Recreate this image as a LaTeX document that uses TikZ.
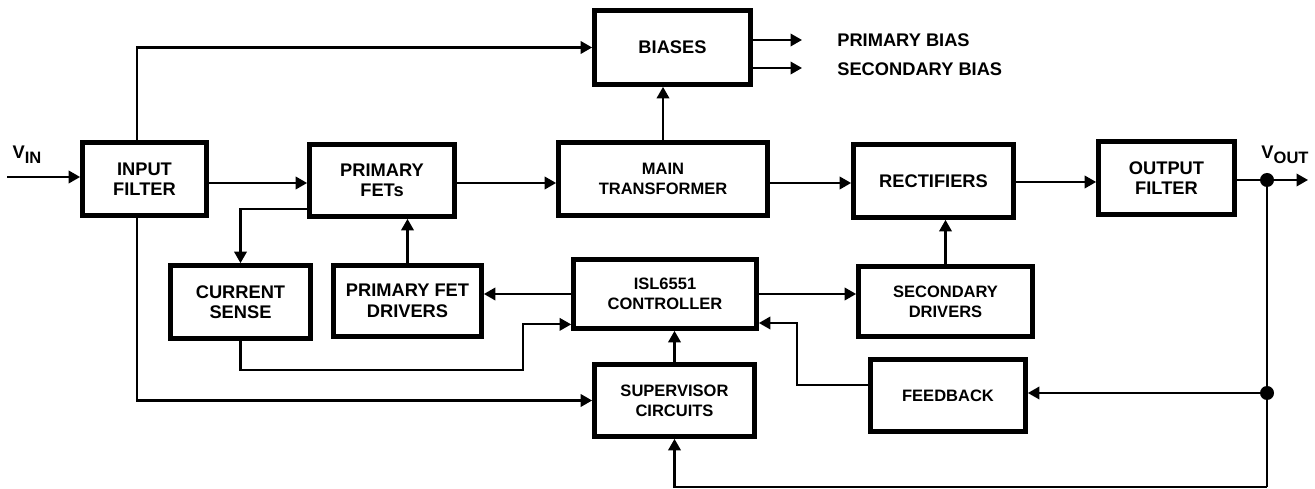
\documentclass[tikz,border=0pt]{standalone}
\usepackage{fontspec}
\setmainfont{Liberation Sans}
\usetikzlibrary{arrows.meta}
\tikzstyle{block} = [draw, line width=2.7pt, fill=white, align=center, inner sep=1pt, font=\bfseries\fontsize{10.4}{11.7}\selectfont]
\tikzstyle{smallblock} = [block, font=\bfseries\fontsize{9.4}{11.3}\selectfont]
\tikzstyle{label} = [inner sep=0pt, font=\bfseries\fontsize{10.4}{11.7}\selectfont]
\tikzstyle{arrow} = [draw, line width=1.2pt, -{Triangle[length=0.23cm,width=0.25cm]}]
\tikzstyle{wire} = [draw, line width=1.2pt]

\begin{document}
\begin{tikzpicture}[x=0.2mm,y=-0.2mm]
		\useasboundingbox (0,0) rectangle (1315,489);
		
		% Bloques de potencia
		\node[block, minimum width=2.48cm, minimum height=1.46cm] (inf) at (144.5,179) {INPUT\\FILTER};
		\node[block, minimum width=2.9cm, minimum height=1.44cm] (fets) at (382,180.5) {PRIMARY\\FETs};
		\node[smallblock, minimum width=4.18cm, minimum height=1.46cm] (trans) at (663,179) {MAIN\\TRANSFORMER};
		\node[block, minimum width=3.12cm, minimum height=1.48cm] (bias) at (672.5,47.5) {BIASES};
		\node[block, minimum width=3.2cm, minimum height=1.46cm] (rect) at (933.5,181) {RECTIFIERS};
		\node[block, minimum width=2.72cm, minimum height=1.46cm] (outf) at (1166.5,178) {OUTPUT\\FILTER};
		
		% Bloques de control
		\node[block, minimum width=2.8cm, minimum height=1.46cm] (cs) at (240.5,302) {CURRENT\\SENSE};
		\node[block, minimum width=2.96cm, minimum height=1.42cm] (fdrv) at (407.5,301) {PRIMARY FET\\DRIVERS};
		\node[smallblock, minimum width=3.66cm, minimum height=1.38cm] (ctrl) at (665,294) {ISL6551\\CONTROLLER};
		\node[smallblock, minimum width=3.48cm, minimum height=1.4cm] (sdrv) at (945.5,301.5) {SECONDARY\\DRIVERS};
		\node[smallblock, minimum width=3.2cm, minimum height=1.44cm] (sup) at (674.5,400.5) {SUPERVISOR\\CIRCUITS};
		\node[smallblock, minimum width=3.1cm, minimum height=1.44cm] (fb) at (948,395.5) {FEEDBACK};
		
		% Entradas, salidas y puntos auxiliares
		\coordinate (vin) at (7,177);
		\coordinate (vout) at (1308,180);
		\coordinate (tap1) at (1267,180);
		\coordinate (tap2) at (1267,393);
		\coordinate (bot) at (1267,487);
		\coordinate (pb) at (802,40);
		\coordinate (sb) at (802,68);
		\coordinate (cs1) at (523,370);
		\coordinate (fb1) at (797,323);
		
		\node[label] (vinlbl) at (27,155) {V\raisebox{-0.1cm}{\fontsize{9.4}{9.4}\selectfont IN}};
		\node[label] (voutlbl) at (1285,155) {V\raisebox{-0.1cm}{\fontsize{9.4}{9.4}\selectfont OUT}};
		\node[label, anchor=west] (pblbl) at (837,40) {PRIMARY BIAS};
		\node[label, anchor=west] (sblbl) at (837,69) {SECONDARY BIAS};
		
		% Camino de potencia
		\draw[arrow] (vin) -- (vin -| inf.west);
		\draw[arrow] ([yshift=-0.08cm]inf.east) -- ([yshift=-0.08cm]inf.east -| fets.west);
		\draw[arrow] ([yshift=-0.05cm]fets.east) -- ([yshift=-0.05cm]fets.east -| trans.west);
		\draw[arrow] ([yshift=-0.08cm]trans.east) -- ([yshift=-0.08cm]trans.east -| rect.west);
		\draw[arrow] ([yshift=-0.02cm]rect.east) -- ([yshift=-0.02cm]rect.east -| outf.west);
		\draw[wire] (tap1 -| outf.east) -- (tap1);
		\draw[arrow] (tap1) -- (vout);
		\fill (tap1) circle (0.14cm);
		\fill (tap2) circle (0.14cm);
		
		% Polarizaciones
		\draw[arrow] ([xshift=-0.15cm]inf.north) |- (bias.west);
		\draw[arrow] (trans.north) -- (trans.north |- bias.south);
		\draw[arrow] (bias.east |- pb) -- (pb);
		\draw[arrow] (bias.east |- sb) -- (sb);
		
		% Lazo de control
		\draw[arrow] ([yshift=0.19cm]fets.south west) -| (cs.north);
		\draw[arrow] (fdrv.north) -- (fdrv.north |- fets.south);
		\draw[arrow] (ctrl.west) -- (ctrl.west -| fdrv.east);
		\draw[arrow] (ctrl.east) -- (ctrl.east -| sdrv.west);
		\draw[arrow] (sdrv.north) -- (sdrv.north |- rect.south);
		\draw[arrow] (sup.north) -- (sup.north |- ctrl.south);
		\draw[arrow] (cs.south) |- (cs1) |- ([yshift=0.13cm]ctrl.south west);
		\draw[arrow] ([xshift=-0.15cm]inf.south) |- (sup.west);
		\draw[arrow] ([yshift=0.21cm]fb.west) -| (fb1) -- (fb1 -| ctrl.east);
		
		% Realimentacion desde la salida
		\draw[wire] (tap1) -- (bot);
		\draw[arrow] (tap2) -- (tap2 -| fb.east);
		\draw[arrow] (bot) -| (sup.south);
	\end{tikzpicture}
\end{document}
